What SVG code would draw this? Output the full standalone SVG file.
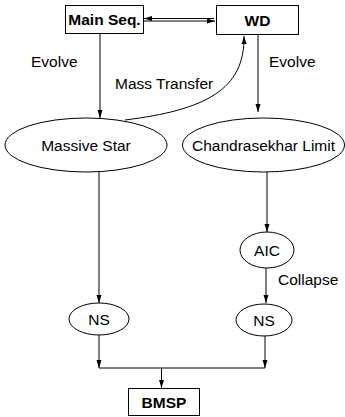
<svg xmlns="http://www.w3.org/2000/svg" width="345" height="417" viewBox="0 0 345 417">
<style>
.box{fill:#fff;stroke:#000;stroke-width:1}
.ell{fill:#fff;stroke:#000;stroke-width:1}
.t{font-family:"Liberation Sans",Arial,sans-serif;font-size:15.5px;fill:#000;text-anchor:middle;dominant-baseline:central}
.b{font-weight:bold}
.l{font-family:"Liberation Sans",Arial,sans-serif;font-size:15.5px;fill:#000}
.c{fill:none;stroke:#000;stroke-width:1}
</style>
<defs>
<marker id="a" markerWidth="8" markerHeight="8" refX="8" refY="4" orient="auto" markerUnits="userSpaceOnUse">
<path d="M0,1.5 L8,4 L0,6.5 Z" fill="#000"/>
</marker>
</defs>
<g id="connectors">
<line class="c" x1="214" y1="18.5" x2="144" y2="18.5" marker-end="url(#a)"/>
<line class="c" x1="144" y1="21" x2="215" y2="21" marker-end="url(#a)"/>
<line class="c" x1="100" y1="33" x2="100" y2="118" marker-end="url(#a)"/>
<line class="c" x1="258" y1="34" x2="258" y2="112" marker-end="url(#a)"/>
<path class="c" d="M125,120 C205,110 245,90 244,36" marker-end="url(#a)"/>
<line class="c" x1="267" y1="172" x2="267" y2="232" marker-end="url(#a)"/>
<line class="c" x1="99" y1="172" x2="99" y2="303" marker-end="url(#a)"/>
<line class="c" x1="266" y1="268" x2="266" y2="303" marker-end="url(#a)"/>
<line class="c" x1="99" y1="335" x2="99" y2="368" marker-end="url(#a)"/>
<line class="c" x1="265" y1="336" x2="265" y2="368" marker-end="url(#a)"/>
<line class="c" x1="99" y1="368" x2="265" y2="368"/>
<line class="c" x1="161.5" y1="368" x2="161.5" y2="388" marker-end="url(#a)"/>
</g>
<g id="labels">
<text class="l" x="31" y="67">Evolve</text>
<text class="l" x="269" y="67">Evolve</text>
<text class="l" x="115" y="89">Mass Transfer</text>
<text class="l" x="278" y="285">Collapse</text>
</g>
<g id="mainseq">
<rect class="box" x="65.5" y="5.5" width="78" height="28"/>
<text class="t b" x="104.5" y="19.5">Main Seq.</text>
</g>
<g id="wd">
<rect class="box" x="216.5" y="5.5" width="82" height="29"/>
<text class="t b" x="257.5" y="20">WD</text>
</g>
<g id="massive">
<ellipse class="ell" cx="86" cy="145" rx="81" ry="27"/>
<text class="t" x="86" y="145">Massive Star</text>
</g>
<g id="chandra">
<ellipse class="ell" cx="263.5" cy="145" rx="81" ry="27"/>
<text class="t" x="263.5" y="145">Chandrasekhar Limit</text>
</g>
<g id="aic">
<ellipse class="ell" cx="267" cy="250" rx="27" ry="18"/>
<text class="t" x="267" y="250">AIC</text>
</g>
<g id="ns1">
<ellipse class="ell" cx="99" cy="319" rx="30" ry="16"/>
<text class="t" x="99" y="319">NS</text>
</g>
<g id="ns2">
<ellipse class="ell" cx="264" cy="320" rx="28" ry="16"/>
<text class="t" x="264" y="320">NS</text>
</g>
<g id="bmsp">
<rect class="box" x="128.5" y="388.5" width="71" height="27"/>
<text class="t b" x="164" y="402">BMSP</text>
</g>
</svg>
